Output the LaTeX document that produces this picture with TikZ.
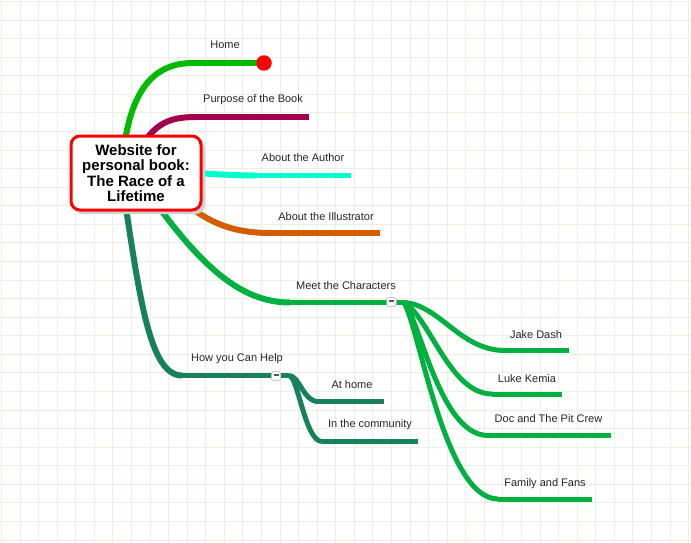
\documentclass[tikz,border=0pt]{standalone}
\usepackage{fontspec}
\setmainfont{Liberation Sans}
\definecolor{gridc}{RGB}{232,242,224}
\definecolor{chome}{RGB}{0,187,0}
\definecolor{cpurp}{RGB}{165,0,75}
\definecolor{cauth}{RGB}{0,255,204}
\definecolor{cillu}{RGB}{214,92,0}
\definecolor{cchar}{RGB}{0,176,64}
\definecolor{chelp}{RGB}{24,128,94}
\definecolor{croot}{RGB}{255,0,0}
\tikzset{
  gridline/.style={draw=gridc,line width=1pt},
  br/.style={line width=6pt,line cap=butt},
  hz/.style={line width=5.5pt,line cap=butt},
  kid/.style={line width=5pt,line cap=butt},
  lbl/.style={inner sep=0pt,font=\fontsize{11}{13}\selectfont,text=black!85},
  rootbox/.style={draw=croot,line width=3pt,fill=white,rounded corners=9pt,minimum width=130pt,minimum height=74pt,align=center,inner sep=0pt,font=\fontsize{15}{15.5}\selectfont\bfseries},
  btn/.style={draw=black!30,line width=0.6pt,fill=white,rounded corners=1.5pt,minimum width=9.5pt,minimum height=8.5pt,inner sep=0pt},
  dot/.style={circle,fill=red,minimum size=15.5pt,inner sep=0pt}
}
\begin{document}
\begin{tikzpicture}[x=1pt,y=-1pt]
\useasboundingbox (0,0) rectangle (691,543);
\fill[white] (0,0) rectangle (691,543);
\foreach \i in {0,...,37} \draw[gridline] ({1.5+\i*18.57},0) -- ({1.5+\i*18.57},543);
\foreach \j in {0,...,29} \draw[gridline] (0,{1.5+\j*18.57}) -- (691,{1.5+\j*18.57});

% anchor coordinates
\coordinate (rHome) at (122,165);
\coordinate (rPurp) at (138,152);
\coordinate (rAuth) at (150,172);
\coordinate (rIllu) at (172,192);
\coordinate (rChar) at (150,195);
\coordinate (rHelp) at (124,195);

\coordinate (homeA) at (193,63);
\coordinate (homeB) at (258,63);
\coordinate (purpA) at (197,117);
\coordinate (purpB) at (309,117);
\coordinate (authA) at (255,175.5);
\coordinate (authB) at (351,175.5);
\coordinate (illuA) at (271,233);
\coordinate (illuB) at (380,233);
\coordinate (charA) at (290,302.5);
\coordinate (charB) at (404,302.5);
\coordinate (helpA) at (182,375.5);
\coordinate (helpB) at (289,375.5);

\coordinate (jakeA) at (505,350.5);
\coordinate (jakeB) at (569,350.5);
\coordinate (lukeA) at (492,394);
\coordinate (lukeB) at (562,394);
\coordinate (docA) at (488,435.5);
\coordinate (docB) at (611,435.5);
\coordinate (famA) at (498,499);
\coordinate (famB) at (592,499);
\coordinate (atA) at (318,401.5);
\coordinate (atB) at (384,401.5);
\coordinate (comA) at (322,441.5);
\coordinate (comB) at (418,441.5);

% main branches
\draw[br,chome] (rHome) .. controls (128,95) and (150,63) .. (homeA);
\draw[hz,chome] (homeA) -- (homeB);
\draw[br,cpurp] (rPurp) .. controls (155,122) and (170,117) .. (purpA);
\draw[hz,cpurp] (purpA) -- (purpB);
\draw[br,cauth] (rAuth) .. controls (200,172) and (220,175.5) .. (authA);
\draw[hz,cauth] (authA) -- (authB);
\draw[br,cillu] (rIllu) .. controls (205,222) and (230,233) .. (illuA);
\draw[hz,cillu] (illuA) -- (illuB);
\draw[br,cchar] (rChar) .. controls (200,265) and (240,302.5) .. (charA);
\draw[hz,cchar] (charA) -- (charB);
\draw[br,chelp] (rHelp) .. controls (140,300) and (150,375.5) .. (helpA);
\draw[hz,chelp] (helpA) -- (helpB);

% character children
\draw[kid,cchar] (charB) .. controls (440,305) and (460,350.5) .. (jakeA);
\draw[kid,cchar] (jakeA) -- (jakeB);
\draw[kid,cchar] (charB) .. controls (430,318) and (450,394) .. (lukeA);
\draw[kid,cchar] (lukeA) -- (lukeB);
\draw[kid,cchar] (charB) .. controls (420,320) and (440,435.5) .. (docA);
\draw[kid,cchar] (docA) -- (docB);
\draw[kid,cchar] (charB) .. controls (420,330) and (445,499) .. (famA);
\draw[kid,cchar] (famA) -- (famB);

% help children
\draw[kid,chelp] (helpB) .. controls (300,376) and (303,401.5) .. (atA);
\draw[kid,chelp] (atA) -- (atB);
\draw[kid,chelp] (helpB) .. controls (298,376) and (305,441.5) .. (comA);
\draw[kid,chelp] (comA) -- (comB);

% root
\fill[black!18,rounded corners=9pt] (73,139) rectangle (205,214);
\node[rootbox] (root) at (136,173) {Website for\\personal book:\\The Race of a\\Lifetime};

% dot and buttons
\node[dot] (homedot) at (264,63) {};
\node[btn] (charbtn) at (391.5,302) {\textcolor{black!65}{\rule[1.6pt]{5pt}{1.6pt}}};
\node[btn] (helpbtn) at (276,376) {\textcolor{black!65}{\rule[1.6pt]{5pt}{1.6pt}}};

% labels
\node[lbl] (lhome) at (225,45) {Home};
\node[lbl] (lpurp) at (253,100) {Purpose of the Book};
\node[lbl] (lauth) at (303,158) {About the Author};
\node[lbl] (lillu) at (326,217) {About the Illustrator};
\node[lbl] (lchar) at (346,286) {Meet the Characters};
\node[lbl] (lhelp) at (237,358.5) {How you Can Help};
\node[lbl] (lat) at (352,385) {At home};
\node[lbl] (lcom) at (370,425) {In the community};
\node[lbl] (ljake) at (536,335) {Jake Dash};
\node[lbl] (lluke) at (527,378.5) {Luke Kemia};
\node[lbl] (ldoc) at (548.5,419) {Doc and The Pit Crew};
\node[lbl] (lfam) at (545,483.5) {Family and Fans};
\end{tikzpicture}
\end{document}
